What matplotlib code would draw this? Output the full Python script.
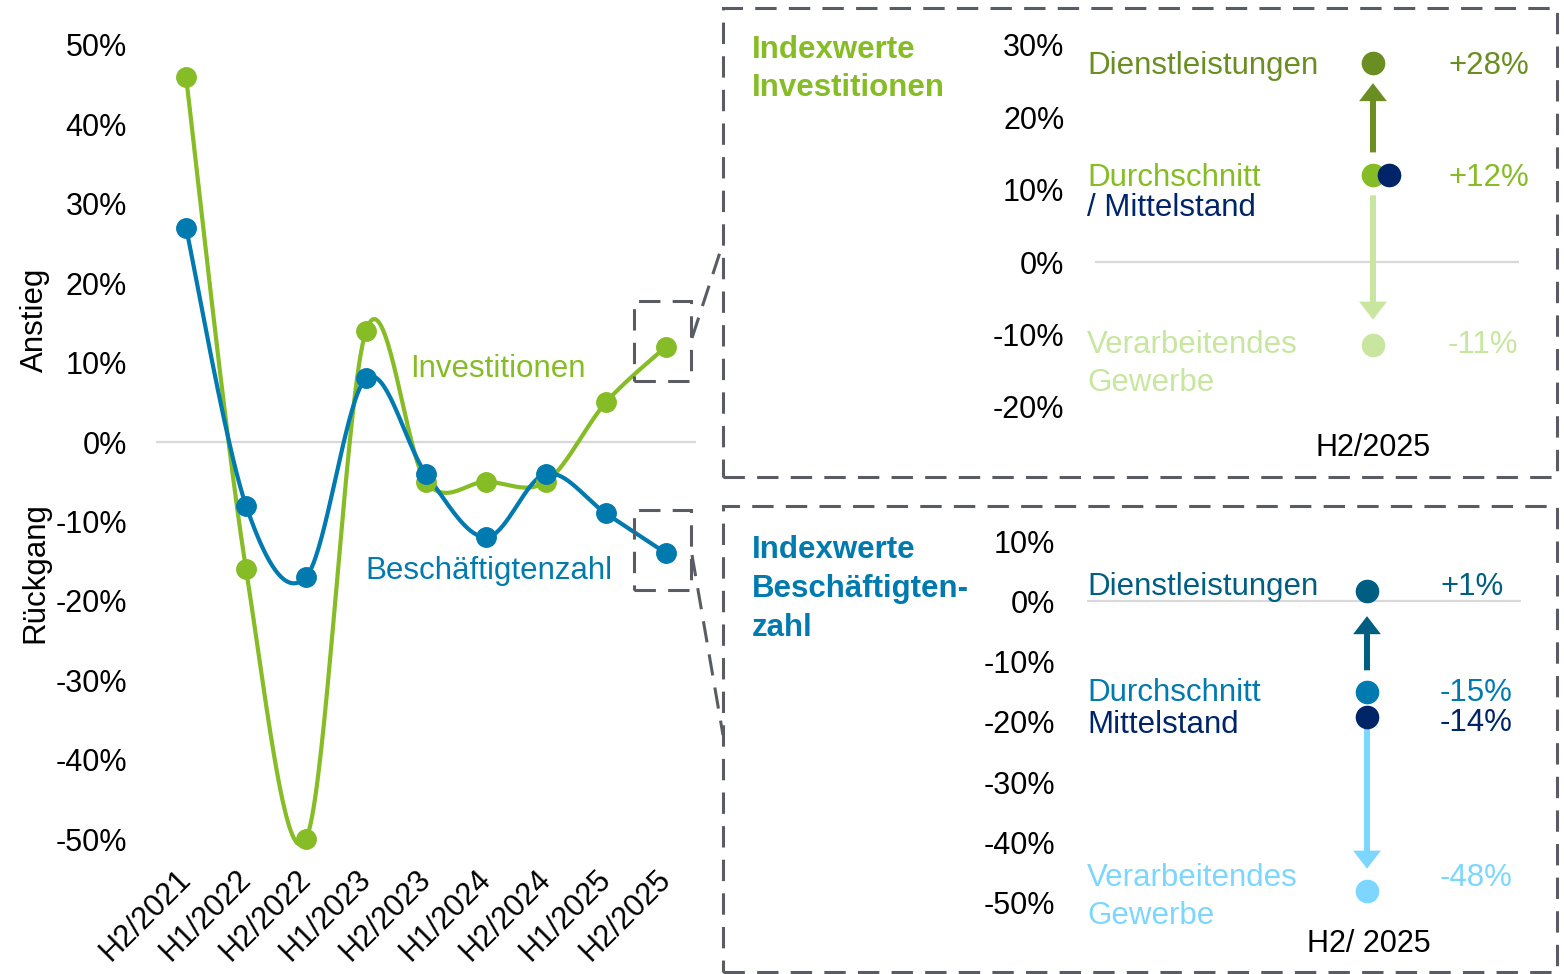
import numpy as np
import matplotlib
matplotlib.use('Agg')
import matplotlib.pyplot as plt
import matplotlib.transforms as mtransforms
from matplotlib.patches import Rectangle, FancyArrowPatch
from matplotlib.lines import Line2D

plt.rcParams['font.family'] = ['Liberation Sans', 'DejaVu Sans']

# Daten Hauptdiagramm (Veraenderung in %)
perioden = ['H2/2021', 'H1/2022', 'H2/2022', 'H1/2023', 'H2/2023',
            'H1/2024', 'H2/2024', 'H1/2025', 'H2/2025']
investitionen = [46, -16, -50, 14, -5, -5, -5, 5, 12]
beschaeftigte = [27, -8, -17, 8, -4, -12, -4, -9, -14]

# Indexwerte H2/2025 nach Gruppe
gruppen = ['Dienstleistungen', 'Durchschnitt', 'Mittelstand', 'Verarbeitendes Gewerbe']
inv_werte = [28, 12, 12, -11]
besch_werte = [1, -15, -14, -48]

GRUEN = '#86BC25'
BLAU = '#007AAF'
GRAU = '#595D63'
inv_farben = ['#6B8E23', GRUEN, '#002468', '#C8E6A0']
besch_farben = ['#005E82', BLAU, '#002468', '#7DD6FF']

FS_TICK = 22
FS_TEXT = 22.5

W, H = 1564, 974
fig = plt.figure(figsize=(W / 100, H / 100), dpi=100)


def fx(px):
    return px / W


def fy(py):
    return 1 - py / H


def box(x0, y0, x1, y1):
    return [fx(x0), fy(y1), (x1 - x0) / W, (y1 - y0) / H]


def smooth(x, y, n=40):
    # geglaettete Linie wie in Excel (Catmull-Rom -> Bezier)
    x = np.asarray(x, float)
    y = np.asarray(y, float)
    px = np.concatenate([[x[0]], x, [x[-1]]])
    py = np.concatenate([[y[0]], y, [y[-1]]])
    t = np.linspace(0, 1, n)[:, None]
    out = []
    for i in range(len(x) - 1):
        p0 = np.array([px[i], py[i]])
        p1 = np.array([px[i + 1], py[i + 1]])
        p2 = np.array([px[i + 2], py[i + 2]])
        p3 = np.array([px[i + 3], py[i + 3]])
        c1 = p1 + (p2 - p0) / 6
        c2 = p2 - (p3 - p1) / 6
        seg = ((1 - t) ** 3) * p1 + 3 * ((1 - t) ** 2) * t * c1 + 3 * (1 - t) * t ** 2 * c2 + t ** 3 * p2
        out.append(seg)
    out = np.vstack(out)
    return out[:, 0], out[:, 1]


# ---------------- Hauptdiagramm ----------------
ax = fig.add_axes(box(156, 29, 696, 855))
xs = np.arange(len(perioden))
ax.axhline(0, color='#D9D9D9', lw=1.6, zorder=1)
for werte, farbe in [(investitionen, GRUEN), (beschaeftigte, BLAU)]:
    sx, sy = smooth(xs, werte)
    ax.plot(sx, sy, color=farbe, lw=3, solid_capstyle='round', zorder=2)
    ax.plot(xs, werte, 'o', ms=14, color=farbe, clip_on=False, zorder=3)

ax.set_xlim(-0.5, len(perioden) - 0.5)
ax.set_ylim(-52, 52)
ticks = np.arange(-50, 51, 10)
ax.set_yticks(ticks)
ax.set_yticklabels([f'{t}%' for t in ticks], fontsize=FS_TICK)
ax.set_xticks(xs)
ax.set_xticklabels(perioden, fontsize=FS_TICK, rotation=45, ha='right', va='center',
                   rotation_mode='anchor')
ax.tick_params(axis='y', length=0, pad=21)
ax.tick_params(axis='x', length=0, pad=14)
for s in ax.spines.values():
    s.set_visible(False)

ax.text(0.470, 0.588, 'Investitionen', transform=ax.transAxes, color=GRUEN,
        fontsize=FS_TEXT, va='center', ha='left')
ax.text(0.387, 0.344, 'Beschäftigtenzahl', transform=ax.transAxes, color=BLAU,
        fontsize=FS_TEXT, va='center', ha='left')

fig.text(fx(35), fy(320), 'Anstieg', rotation=90, ha='center', va='center', fontsize=FS_TEXT)
fig.text(fx(35), fy(573), 'Rückgang', rotation=90, ha='center', va='center', fontsize=FS_TEXT)

# Markierungen und Verbindungslinien
dash = (0, (7, 4))
for (x0, y0, x1, y1) in [(634, 301, 691, 381), (634, 510, 691, 590),
                         (723, 8, 1557, 477), (723, 506, 1557, 972)]:
    fig.patches.append(Rectangle((fx(x0), fy(y1)), (x1 - x0) / W, (y1 - y0) / H,
                                 transform=fig.transFigure, fill=False,
                                 ec=GRAU, lw=2.2, ls=dash))
for (xa, ya, xb, yb) in [(692, 338, 723, 243), (692, 555, 723, 735)]:
    fig.lines.append(Line2D([fx(xa), fx(xb)], [fy(ya), fy(yb)], transform=fig.transFigure,
                            color=GRAU, lw=2.2, ls=dash))


# ---------------- Detailpanels ----------------
def detail(rect, lims, ticks, werte, farben, labels, dot_dx, dot_dy,
           lab_dy, val_dy, val_texte, lab_x, val_x, pad, arrows, titel, titel_y,
           titel_farbe, fuss, fuss_y, fuss_x):
    a = fig.add_axes(rect)
    a.set_xlim(*lims[0])
    a.set_ylim(*lims[1])
    a.axhline(0, color='#D9D9D9', lw=1.6, zorder=1)
    a.set_yticks(ticks)
    a.set_yticklabels([f'{t}%' for t in ticks], fontsize=FS_TICK)
    a.set_xticks([])
    a.tick_params(axis='y', length=0, pad=pad)
    for s in a.spines.values():
        s.set_visible(False)

    for (i0, i1, farbe, sa, sb) in arrows:
        a.add_patch(FancyArrowPatch((0, werte[i0]), (0, werte[i1]),
                                    arrowstyle='simple,head_length=13,head_width=20,tail_width=4.3',
                                    mutation_scale=1, shrinkA=sa, shrinkB=sb,
                                    color=farbe, lw=0, zorder=2))

    lt = mtransforms.blended_transform_factory(fig.transFigure, a.transData)
    for i, w in enumerate(werte):
        off = mtransforms.ScaledTranslation(dot_dx[i] / 100, -dot_dy[i] / 100, fig.dpi_scale_trans)
        a.plot([0], [w], 'o', ms=16, color=farben[i], transform=a.transData + off,
               clip_on=False, zorder=3)
        zeilen = labels[i].split('\n')
        for k, z in enumerate(zeilen):
            a.annotate(z, (fx(lab_x), w), xycoords=lt,
                       xytext=(0, -(lab_dy[i] + 3 + 38 * k) * 0.72), textcoords='offset points',
                       color=farben[i], fontsize=FS_TEXT, va='center', ha='left')
        if val_texte[i]:
            a.annotate(val_texte[i], (fx(val_x), w), xycoords=lt,
                       xytext=(0, -(val_dy[i] + 3) * 0.72), textcoords='offset points',
                       color=farben[i], fontsize=FS_TEXT, va='center', ha='left')

    fig.text(fx(752), fy(titel_y), titel, color=titel_farbe, fontsize=FS_TEXT,
             weight='bold', va='center', ha='left', linespacing=1.38)
    fig.text(fx(fuss_x), fy(fuss_y), fuss, fontsize=FS_TICK, ha='center', va='center')
    return a


# oben: Investitionen  (30% bei y=45, -20% bei y=407)
detail(box(1095, 8, 1519, 477),
       ((-(1373 - 1095) / 424, (1519 - 1373) / 424), (-20 - 70 / 7.24, 30 + 37 / 7.24)),
       [30, 20, 10, 0, -10, -20],
       inv_werte, inv_farben,
       ['Dienstleistungen', 'Durchschnitt', '/ Mittelstand', 'Verarbeitendes\nGewerbe'],
       [0, 0, 16, 0], [4, 0, 0, 3],
       [4, 0, 30, 0], [4, 0, 0, 0],
       [f'{inv_werte[0]:+d}%', f'{inv_werte[1]:+d}%', '', f'{inv_werte[3]:+d}%'],
       1087, 1448, 22,
       [(1, 0, inv_farben[0], 16.5, 17), (1, 3, inv_farben[3], 14.4, 16)],
       'Indexwerte\nInvestitionen', 69, GRUEN, 'H2/2025', 448, 1373)

# unten: Beschaeftigtenzahl  (10% bei y=541, -50% bei y=903)
detail(box(1087, 506, 1521, 972),
       ((-(1367 - 1087) / 434, (1521 - 1367) / 434), (-50 - 69 / 6.033, 10 + 35 / 6.033)),
       [10, 0, -10, -20, -30, -40, -50],
       besch_werte, besch_farben,
       ['Dienstleistungen', 'Durchschnitt', 'Mittelstand', 'Verarbeitendes\nGewerbe'],
       [0, 0, 0, 0], [-4, 0, 31, 0],
       [-11, -2, 36, -16], [-11, -2, 34, -16],
       [f'{w:+d}%' for w in besch_werte],
       1087, 1440, 23,
       [(1, 0, besch_farben[0], 15.5, 15), (1, 3, besch_farben[3], 26, 16)],
       'Indexwerte\nBeschäftigten-\nzahl', 589, BLAU, 'H2/ 2025', 944, 1369)

fig.savefig('out.png', dpi=100)
